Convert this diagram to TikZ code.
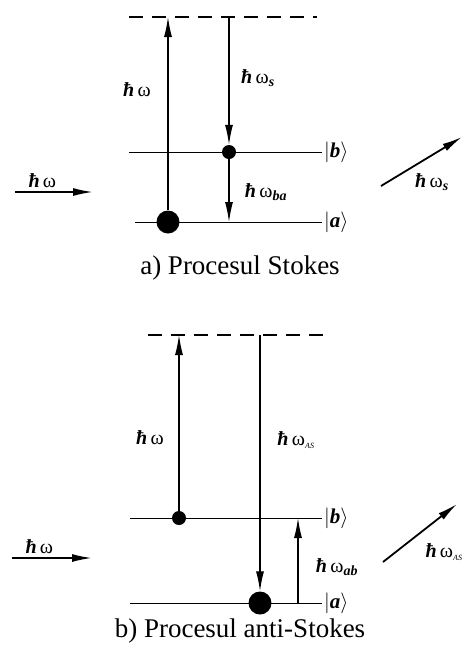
\documentclass[tikz,border=0pt]{standalone}
\usepackage{fontspec}
\setmainfont{Liberation Serif}
\usetikzlibrary{arrows.meta,positioning}
\newcommand{\hb}{\textbf{\textit{ħ}}}
\newcommand{\hw}{\hb\,ω}
\newcommand{\sub}[1]{\textsubscript{\textbf{\textit{#1}}}}
\newcommand{\ket}[1]{$|$\textbf{\textit{#1}}$\rangle$}

\begin{document}
\begin{tikzpicture}[
  x=1pt, y=-1pt,
  level/.style={draw=black, line width=0.9pt},
  virt/.style={draw=black, line width=1.8pt, dash pattern=on 14pt off 9pt},
  trans/.style={-{Latex[length=20pt,width=8pt]}, line width=1.3pt},
  photon/.style={-{Latex[length=20pt,width=8pt]}, line width=1.8pt},
  bigdot/.style={circle, fill=black, inner sep=0pt, minimum size=23pt},
  smalldot/.style={circle, fill=black, inner sep=0pt, minimum size=14pt},
  lbl/.style={font=\fontsize{20}{24}\selectfont},
  ketlbl/.style={font=\fontsize{21}{25}\selectfont, anchor=west, inner sep=2pt},
  capt/.style={font=\fontsize{27}{31}\selectfont}
]
\useasboundingbox (0,0) rectangle (462,649);
\clip (0,0) rectangle (462,649);

% ---- a) Stokes ------------------------------------------------------------
\coordinate (dl1) at (129,17);
\coordinate (dr1) at (317,17);
\coordinate (up1) at (168,17);
\coordinate (dn1) at (229,17);
\coordinate (fa1) at (229,222);
\draw[virt] (dl1) -- (dr1);
\draw[level] (129,152) coordinate (bl1) -- (322,152) coordinate (br1);
\draw[level] (135,222) coordinate (al1) -- (322,222) coordinate (ar1);
\node[ketlbl] (kb1) at (br1) {\ket{b}};
\node[ketlbl] (ka1) at (ar1) {\ket{a}};
\node[bigdot]   (ga1) at (168,222) {};
\node[smalldot] (eb1) at (229,152) {};
\draw[trans] (ga1) -- (up1);
\draw[trans] (dn1) -- (eb1);
\draw[trans] (eb1) -- (fa1);
\node[lbl] (lw1)  at (137,90)  {\hw};
\node[lbl] (ls1)  at (258,78)  {\hw\sub{s}};
\node[lbl] (lba1) at (266,192) {\hw\sub{ba}};
% incoming / scattered photons
\coordinate (is1) at (15,192);
\coordinate (ie1) at (93,192);
\draw[photon] (is1) -- (ie1);
\node[lbl, above=1pt of is1, anchor=south west, xshift=10pt] (li1) {\hw};
\coordinate (os1) at (381,186);
\coordinate (oe1) at (462,137);
\draw[photon] (os1) -- (oe1);
\node[lbl] (lo1) at (432,182) {\hw\sub{s}};
\node[capt] (c1) at (240,268) {a) Procesul Stokes};

% ---- b) anti-Stokes -------------------------------------------------------
\coordinate (dl2) at (148,335);
\coordinate (dr2) at (325,335);
\coordinate (up2) at (179,335);
\coordinate (dn2) at (260,335);
\coordinate (fb2) at (298,518);
\coordinate (sa2) at (298,603);
\draw[virt] (dl2) -- (dr2);
\draw[level] (130,518) coordinate (bl2) -- (322,518) coordinate (br2);
\draw[level] (130,603) coordinate (al2) -- (322,603) coordinate (ar2);
\node[ketlbl] (kb2) at (br2) {\ket{b}};
\node[ketlbl] (ka2) at (ar2) {\ket{a}};
\node[smalldot] (eb2) at (179,518) {};
\node[bigdot]   (ga2) at (260,603) {};
\draw[trans] (eb2) -- (up2);
\draw[trans] (dn2) -- (ga2);
\draw[trans] (sa2) -- (fb2);
\node[lbl] (lw2)  at (150,438) {\hw};
\node[lbl] (las2) at (296,440) {\hw\textsubscript{\textit{\fontsize{8}{9}\selectfont AS}}};
\node[lbl] (lab2) at (337,567) {\hw\sub{ab}};
% incoming / scattered photons
\coordinate (is2) at (12,558);
\coordinate (ie2) at (92,558);
\draw[photon] (is2) -- (ie2);
\node[lbl, above=1pt of is2, anchor=south west, xshift=10pt] (li2) {\hw};
\coordinate (os2) at (383,562);
\coordinate (oe2) at (457,504);
\draw[photon] (os2) -- (oe2);
\node[lbl, anchor=west] (lo2) at (422,552) {\hw\textsubscript{\textit{\fontsize{8}{9}\selectfont AS}}};
\node[capt] (c2) at (240,631) {b) Procesul anti-Stokes};
\end{tikzpicture}
\end{document}
